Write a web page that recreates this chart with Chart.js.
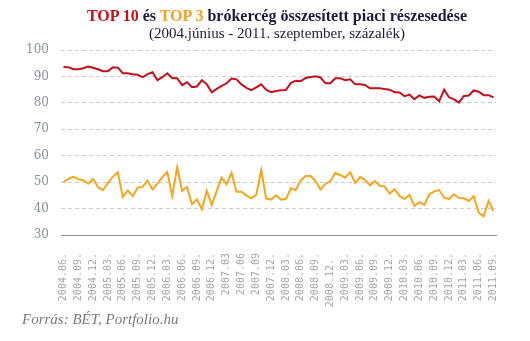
<!DOCTYPE html>
<html>
<head>
<meta charset="utf-8">
<script src="https://cdn.jsdelivr.net/npm/chart.js@4/dist/chart.umd.min.js"></script>
<style>
  html, body { margin: 0; padding: 0; background: #fff; }
  #wrap { position: relative; width: 530px; height: 341px; overflow: hidden; }
  #c { position: absolute; left: 0; top: 0; }
  .title { position: absolute; left: 0; width: 554px; text-align: center; font-family: "Liberation Serif", serif; white-space: nowrap; }
  #t1 { top: 7px; font-size: 16px; font-weight: bold; color: #1c1c3a; }
  #t2 { top: 25px; font-size: 15px; color: #1c1c3a; }
  .red { color: #c4101a; }
  .orange { color: #f5a31c; }
  #src { position: absolute; left: 22px; top: 311px; font-family: "Liberation Serif", serif; font-style: italic; font-size: 15px; color: #7a7a7a; }
</style>
</head>
<body>
<div id="wrap">
  <canvas id="c" width="530" height="341"></canvas>
  <div class="title" id="t1"><span class="red">TOP 10</span> és <span class="orange">TOP 3</span> brókercég összesített piaci részesedése</div>
  <div class="title" id="t2">(2004.június - 2011. szeptember, százalék)</div>
  <div id="src">Forrás: BÉT, Portfolio.hu</div>
</div>
<script>
// Tick labels shown every third month (2004.06 ... 2011.09)
const tickLabels = ["2004.06.","2004.09.","2004.12.","2005.03.","2005.06.","2005.09.","2005.12.","2006.03.","2006.06.","2006.09.","2006.12.","2007.03","2007.06","2007.09","2007.12.","2008.03.","2008.06.","2008.09.","2008.12. ","2009.03.","2009.06.","2009.09.","2009.12.","2010.03.","2010.06.","2010.09.","2010.12.","2011.03.","2011.06.","2011.09."];

// TOP 10 share, monthly, 2004.06 - 2011.09 (%)
const top10 = [93.6, 93.5, 92.7, 92.7, 93.1, 93.7, 93.3, 92.7, 92.0, 92.0, 93.5, 93.3, 91.2, 91.2, 90.8, 90.6, 89.7, 90.9, 91.6, 88.6, 89.7, 91.2,
               89.3, 89.3, 86.7, 87.8, 85.9, 86.2, 88.6, 87.0, 84.0, 85.3, 86.4, 87.4, 89.2, 88.9, 87.0, 85.7, 84.8, 85.9, 87.0, 85.0, 84.0, 84.5,
               84.8, 84.9, 87.5, 88.4, 88.2, 89.4, 89.8, 90.1, 89.6, 87.4, 87.4, 89.3, 89.3, 88.6, 88.9, 87.0, 87.0, 86.8, 85.5, 85.5, 85.5, 85.2,
               85.0, 84.0, 83.9, 82.5, 83.1, 81.4, 82.8, 81.9, 82.3, 82.4, 80.6, 85.0, 82.1, 81.3, 80.1, 82.6, 82.8, 84.7, 84.2, 82.9, 82.9, 82.1];

// TOP 3 share, monthly, 2004.06 - 2011.09 (%)
const top3 = [50.1, 51.2, 52.0, 51.2, 50.7, 49.4, 51.2, 48.1, 47.0, 49.7, 52.1, 53.7, 44.4, 46.9, 44.7, 47.9, 48.2, 50.6, 47.2, 49.4, 51.9, 53.8,
              44.8, 55.7, 46.7, 48.2, 41.6, 43.5, 39.7, 46.7, 41.4, 46.7, 51.7, 49.2, 53.5, 46.4, 46.4, 45.0, 43.9, 45.2, 54.5, 43.8, 43.4, 45.0,
              43.4, 43.6, 47.7, 47.0, 50.7, 52.3, 52.3, 50.4, 47.2, 49.4, 50.4, 53.5, 52.7, 51.7, 53.8, 49.8, 51.9, 50.9, 48.8, 50.4, 48.6, 48.3,
              45.7, 47.3, 44.8, 43.6, 45.2, 41.0, 42.4, 41.4, 45.4, 46.5, 47.0, 44.1, 43.6, 45.4, 44.0, 43.9, 42.9, 44.7, 38.5, 37.1, 42.9, 39.1];

// Monthly categories: every third month carries a tick label
const categories = top10.map((_, i) => (i % 3 === 0 ? tickLabels[i / 3] : ""));

new Chart(document.getElementById("c"), {
  type: "line",
  data: {
    labels: categories,
    datasets: [
      { label: "TOP 10", data: top10, borderColor: "#c4101a", borderWidth: 2, pointRadius: 0, tension: 0, fill: false },
      { label: "TOP 3", data: top3, borderColor: "#f7a51c", borderWidth: 2, pointRadius: 0, tension: 0, fill: false }
    ]
  },
  options: {
    responsive: false,
    animation: false,
    devicePixelRatio: 1,
    layout: { padding: { left: 0, right: 34, top: 50, bottom: 0 } },
    plugins: { legend: { display: false }, title: { display: false }, tooltip: { enabled: false } },
    scales: {
      x: {
        type: "category",
        offset: true,
        afterFit: (s) => { s.height = 106; },
        grid: { display: false, drawTicks: false },
        border: { display: true, color: "#8c8c8c", width: 1 },
        ticks: {
          autoSkip: false,
          minRotation: 90,
          maxRotation: 90,
          padding: 18,
          color: "#a6a6a6",
          font: { family: "DejaVu Sans Mono", size: 10 }
        }
      },
      y: {
        min: 30,
        max: 100,
        afterFit: (s) => { s.width = 61; },
        border: { display: false, dash: [4, 3] },
        grid: {
          drawTicks: false,
          color: (ctx) => (ctx.tick && ctx.tick.value === 30 ? "rgba(0,0,0,0)" : "#cccccc"),
          lineWidth: 1
        },
        ticks: {
          stepSize: 10,
          padding: 12,
          color: "#8a8f9c",
          font: { family: "DejaVu Serif", size: 12 }
        }
      }
    }
  }
});
</script>
</body>
</html>
